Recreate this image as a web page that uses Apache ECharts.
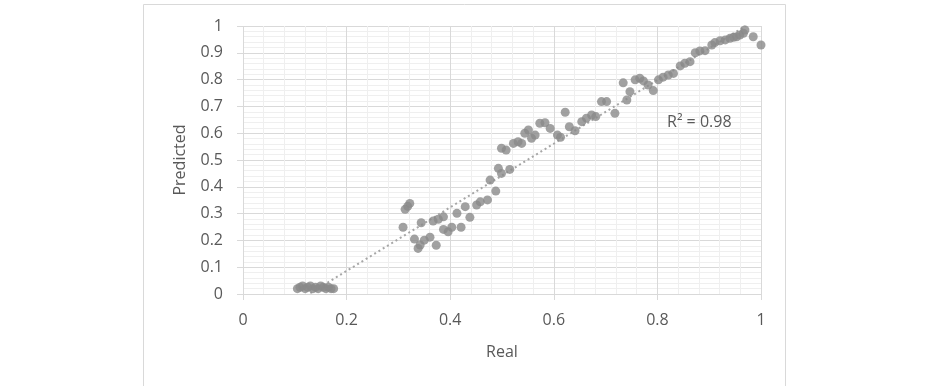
<!DOCTYPE html>
<html>
<head>
<meta charset="utf-8">
<script src="https://cdn.jsdelivr.net/npm/echarts@6/dist/echarts.min.js"></script>
<style>
  html, body { margin: 0; padding: 0; background: #fff; }
  #chart { width: 927px; height: 386px; }
</style>
</head>
<body>
<div id="chart"></div>
<script>
// real vs predicted
const realVals = [
  0.105, 0.11, 0.115, 0.12, 0.125, 0.13, 0.135, 0.14, 0.145, 0.15, 0.155, 0.16, 0.165, 0.17, 0.175,
  0.309, 0.313, 0.318, 0.322, 0.331, 0.338, 0.342, 0.344, 0.350, 0.361, 0.367, 0.373, 0.377, 0.387,
  0.387, 0.396, 0.403, 0.413, 0.421, 0.429, 0.438, 0.451, 0.458, 0.472, 0.477, 0.488, 0.493, 0.499,
  0.499, 0.508, 0.515, 0.522, 0.531, 0.538, 0.544, 0.551, 0.557, 0.564, 0.573, 0.583, 0.593, 0.607,
  0.613, 0.622, 0.630, 0.641, 0.654, 0.663, 0.673, 0.681, 0.692, 0.702, 0.718, 0.734, 0.741, 0.747,
  0.757, 0.766, 0.773, 0.782, 0.792, 0.802, 0.811, 0.821, 0.831, 0.844, 0.853, 0.863, 0.873, 0.882,
  0.892, 0.905, 0.911, 0.921, 0.931, 0.940, 0.947, 0.953, 0.959, 0.966, 0.969, 0.985, 1.0
];
const predictedVals = [
  0.02, 0.025, 0.03, 0.02, 0.025, 0.03, 0.02, 0.025, 0.02, 0.03, 0.025, 0.02, 0.025, 0.02, 0.02,
  0.249, 0.316, 0.327, 0.338, 0.205, 0.170, 0.183, 0.266, 0.201, 0.212, 0.272, 0.182, 0.279, 0.288,
  0.241, 0.232, 0.249, 0.301, 0.249, 0.326, 0.286, 0.332, 0.344, 0.351, 0.425, 0.384, 0.469, 0.450,
  0.544, 0.537, 0.465, 0.562, 0.568, 0.562, 0.600, 0.612, 0.581, 0.593, 0.637, 0.639, 0.618, 0.593,
  0.585, 0.678, 0.624, 0.609, 0.643, 0.656, 0.668, 0.662, 0.718, 0.718, 0.674, 0.788, 0.724, 0.755,
  0.799, 0.805, 0.795, 0.780, 0.759, 0.799, 0.809, 0.817, 0.823, 0.851, 0.861, 0.867, 0.900, 0.907,
  0.908, 0.929, 0.938, 0.945, 0.948, 0.954, 0.958, 0.960, 0.966, 0.973, 0.985, 0.960, 0.929
];
// linear trendline ends
const trendReal = [0.13, 0.97];
const trendPred = [0.003, 1.0];
const r2Text = 'R² = 0.98';

const points = realVals.map((x, i) => [x, predictedVals[i]]);
const trend = trendReal.map((x, i) => [x, trendPred[i]]);

const font = '"Open Sans", sans-serif';
const textColor = '#595959';

const chart = echarts.init(document.getElementById('chart'));
chart.setOption({
    animation: false,
    textStyle: { fontFamily: font },
    grid: { left: 243, right: 166, top: 26, bottom: 92 },
    graphic: [
        {
            type: 'rect',
            shape: { x: 143.5, y: 4.5, width: 642, height: 400 },
            style: { fill: 'none', stroke: '#d9d9d9', lineWidth: 1 },
            silent: true
        },
        {
            type: 'text',
            left: 667,
            top: 114,
            z: 100,
            style: { text: r2Text, fill: '#595959', fontSize: 16, fontFamily: font }
        }
    ],
    xAxis: {
        type: 'value',
        min: 0,
        max: 1,
        interval: 0.2,
        name: 'Real',
        nameLocation: 'middle',
        nameGap: 50,
        nameTextStyle: { color: textColor, fontSize: 16 },
        axisLine: { show: true, lineStyle: { color: '#d9d9d9' } },
        axisTick: { show: true, length: 6, lineStyle: { color: '#d9d9d9' } },
        axisLabel: { color: textColor, fontSize: 16, margin: 18 },
        splitLine: { show: true, lineStyle: { color: '#d9d9d9' } },
        minorTick: { show: false, splitNumber: 5 },
        minorSplitLine: { show: true, lineStyle: { color: '#efefef' } }
    },
    yAxis: {
        type: 'value',
        min: 0,
        max: 1,
        interval: 0.1,
        name: 'Predicted',
        nameLocation: 'middle',
        nameGap: 55,
        nameTextStyle: { color: textColor, fontSize: 16 },
        axisLine: { show: false },
        axisTick: { show: true, length: 6, lineStyle: { color: '#d9d9d9' } },
        axisLabel: { color: textColor, fontSize: 16, margin: 20 },
        splitLine: { show: true, lineStyle: { color: '#d9d9d9' } },
        minorTick: { show: false, splitNumber: 5 },
        minorSplitLine: { show: true, lineStyle: { color: '#efefef' } }
    },
    series: [
        {
            name: 'trend',
            type: 'line',
            data: trend,
            symbol: 'none',
            z: 1,
            lineStyle: { color: '#a6a6a6', width: 2, type: [2, 3] }
        },
        {
            name: 'data',
            type: 'scatter',
            data: points,
            symbolSize: 9,
            z: 2,
            itemStyle: { color: '#8a8a8a' }
        }
    ]
});
</script>
</body>
</html>
